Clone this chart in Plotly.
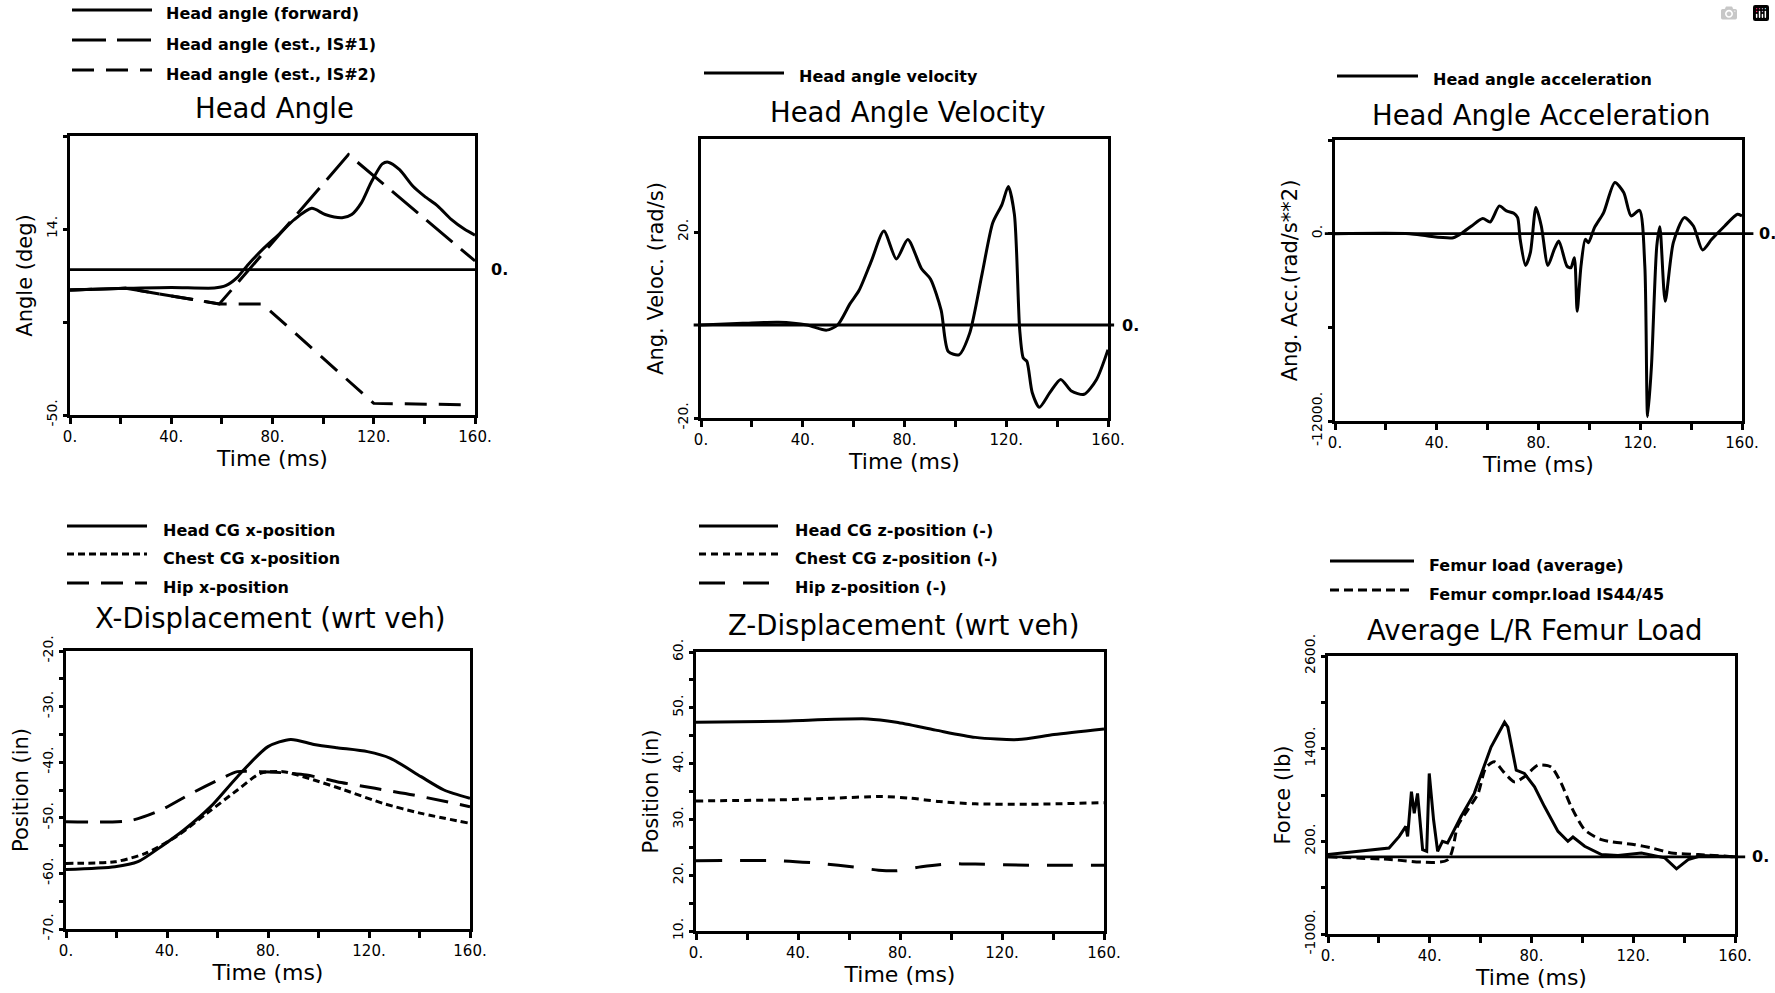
import plotly.graph_objects as go

W, H = 1775, 993
FONT = "DejaVu Sans"

# ---------------- data ----------------
# Panel 1: Head angle (deg)
ha_fwd_t = [0, 22, 40, 57, 61.5, 66, 70.5, 76.6, 82.6, 88.7, 95.5, 100.8, 107.5, 111.3, 115.1,
            118.9, 123.4, 125.7, 130.2, 135.5, 140, 145.3, 150.6, 155.9, 160]
ha_fwd_v = [-7, -6.4, -6.1, -6.3, -5.5, -2.7, 1.9, 7.4, 12.2, 17.3, 21.1, 19.0, 17.9, 19.0, 23.0,
            29.9, 36.4, 37.0, 34.4, 28.7, 25.3, 21.9, 17.3, 13.9, 11.9]
ha_is1_t = [0, 22, 59, 110, 160]
ha_is1_v = [-7, -6.4, -11.8, 39.6, 3.0]
ha_is2_t = [0, 22, 59, 76, 120, 159]
ha_is2_v = [-7, -6.4, -11.8, -11.8, -46, -46.5]

# Panel 2: Head angle velocity (rad/s)
hv_t = [0, 16.4, 30.5, 41.7, 49.4, 53.7, 58.6, 62.1, 67, 71.9, 76.8, 81.3, 86.7, 90.2, 94.4,
        97.2, 101.4, 105.6, 110.5, 114.7, 118.3, 120.8, 123.2, 125.3, 126.7, 128.1, 130.2, 133,
        137.2, 141.4, 145.6, 150.6, 155.5, 160]
hv_v = [0, 0.35, 0.6, 0, -1.1, 0, 4.6, 7.4, 13.8, 20.2, 14.2, 18.4, 12.1, 9.9, 3.2,
        -5.7, -6.4, -1.8, 11, 22, 25.9, 29.8, 23.8, -1.1, -7.1, -7.8, -14.5, -17.7,
        -14.5, -11.7, -14.2, -14.9, -11.7, -5.3]

# Panel 3: Head angle acceleration (rad/s**2)
hacc_t = [0, 29.3, 36.5, 46.5, 50.1, 53.7, 58.1, 61, 64.6, 67.4, 70.3, 71.8, 72.8, 74.9, 76.8,
          79, 81.1, 83.7, 86.2, 88, 91.2, 92.7, 94.1, 95.2, 96.7, 98.4, 99.6, 102, 105.6, 110,
          113.5, 116.4, 119.7, 121.8, 122.9, 124.4, 126.5, 127.7, 129.8, 133, 137.3, 140.9,
          144.5, 148.1, 153.2, 158.2, 160]
hacc_v = [0, 0, -150, -257, 64, 493, 964, 750, 1779, 1457, 1307, 1029, -364, -2036, -1221,
          1671, 493, -2036, -1007, -471, -2079, -2186, -1543, -4972, -2079, -364, -579, 386, 1350, 3279,
          2636, 1136, 1500, -2079, -11722, -8508, -793, 450, -4329, -579, 1029, 493,
          -1050, -364, 493, 1243, 1136]

# Panel 4: X-displacement (in)
xd_head_t = [0, 19.4, 28.5, 37.6, 46.7, 57.3, 67.9, 80, 89, 98.2, 107.3, 119.4, 128.5, 140.6, 149.7, 160]
xd_head_v = [-59.3, -58.8, -57.9, -55.2, -52.2, -48, -42.6, -37.2, -35.9, -36.8, -37.4, -38.1, -39.3,
             -42.6, -45, -46.5]
xd_chest_t = [0, 19.4, 31.5, 43.6, 55.8, 67.9, 77, 86, 98.2, 110.3, 125.5, 140.6, 160]
xd_chest_v = [-58.2, -57.9, -56.4, -53.4, -49.2, -45, -42, -41.7, -43.2, -45, -47.4, -49.2, -51]
xd_hip_t = [0, 25.5, 37.6, 49.7, 60.3, 67.9, 77, 86, 95.2, 107.3, 122.4, 137.6, 160]
xd_hip_v = [-50.7, -50.5, -48.6, -45.6, -43.2, -41.7, -41.7, -41.9, -42.3, -43.5, -44.7, -45.9, -48]

# Panel 5: Z-displacement (in)
zd_head_t = [0, 32.3, 67.4, 78.6, 94, 109.5, 126.3, 140.4, 160]
zd_head_v = [47.4, 47.6, 48, 47.4, 46, 44.7, 44.3, 45.2, 46.2]
zd_chest_t = [0, 32.3, 53.3, 73, 84.2, 95.4, 109.5, 130.5, 160]
zd_chest_v = [33.3, 33.5, 33.8, 34.1, 33.8, 33.2, 32.8, 32.7, 33]
zd_hip_t = [0, 32.3, 49, 63.2, 71.6, 78.6, 88.4, 98.2, 109.5, 130.5, 160]
zd_hip_v = [22.6, 22.6, 22.1, 21.4, 20.9, 20.8, 21.5, 22, 22, 21.8, 21.8]

# Panel 6: Femur load (lb)
fl_avg_t = [0, 12.9, 24, 28, 30.6, 31.3, 32.8, 33.9, 35.2, 35.9, 37.2, 38.8, 39.8, 41.5, 43.1, 45,
            47, 52.3, 57.5, 64.1, 69.4, 70.7, 74, 77.2, 81.2, 85.1, 90.4, 94.3, 96.3, 100.9,
            107.5, 114, 123.2, 132.4, 137, 141.6, 146.9, 160]
fl_avg_v = [29, 71, 114, 264, 393, 264, 843, 564, 821, 564, 93, 71, 1079, 479, 71, 200,
            179, 521, 821, 1421, 1743, 1679, 1121, 1079, 907, 650, 329, 200, 256, 136,
            29, 16, 50, -14, -156, -36, 16, 0]
fl_cmp_t = [0, 22, 47, 51, 55, 59, 62, 65.4, 69, 73.3, 77.2, 82.5, 87.7, 91.7, 95.6, 100.9, 107.5,
            120.6, 127.2, 135, 145.6, 160]
fl_cmp_v = [0, -30, -40, 400, 610, 820, 1150, 1230, 1100, 970, 1036, 1186, 1164, 950, 650, 350, 221,
            157, 114, 50, 29, 0]

# ---------------- panel setup ----------------
# pixel boxes (left, right, top, bottom)
boxes = [(70, 475, 136, 415), (701, 1108, 139, 418), (1335, 1742, 140, 421),
         (66, 470, 651, 929), (696, 1104, 652, 931), (1328, 1735, 656, 934)]
titles = ["Head Angle", "Head Angle Velocity", "Head Angle Acceleration",
          "X-Displacement (wrt veh)", "Z-Displacement (wrt veh)", "Average L/R Femur Load"]
title_pos = [(274, 108), (908, 112), (1541, 115), (270, 618), (903, 625), (1535, 630)]
ytitles = ["Angle (deg)", "Ang. Veloc. (rad/s)", "Ang. Acc.(rad/s**2)",
           "Position (in)", "Position (in)", "Force (lb)"]
yranges = [[-50, 46], [-20, 40], [-12000, 6000], [-70, -20], [10, 60], [-1000, 2600]]
ytickvals = [[-50, -18, 14, 46], [-20, 20], [-12000, -6000, 0, 6000],
             list(range(-70, -19, 5)), list(range(10, 61, 5)),
             [-1000, -400, 200, 800, 1400, 2000, 2600]]
yticktext = [["-50.", "", "14.", ""], ["-20.", "20."], ["-12000.", "", "0.", ""],
             [f"{v}." if v % 10 == 0 else "" for v in range(-70, -19, 5)],
             [f"{v}." if v % 10 == 0 else "" for v in range(10, 61, 5)],
             ["-1000.", "", "200.", "", "1400.", "", "2600."]]
xtickvals = list(range(0, 161, 20))
xticktext = [f"{v}." if v % 40 == 0 else "" for v in xtickvals]

series = [
    [(ha_fwd_t, ha_fwd_v, "solid", "spline"), (ha_is1_t, ha_is1_v, "34px,11px", "linear"),
     (ha_is2_t, ha_is2_v, "22px,12px", "linear")],
    [(hv_t, hv_v, "solid", "spline")],
    [(hacc_t, hacc_v, "solid", "spline")],
    [(xd_head_t, xd_head_v, "solid", "spline"), (xd_chest_t, xd_chest_v, "7px,4px", "spline"),
     (xd_hip_t, xd_hip_v, "22px,12px", "spline")],
    [(zd_head_t, zd_head_v, "solid", "spline"), (zd_chest_t, zd_chest_v, "7px,5px", "spline"),
     (zd_hip_t, zd_hip_v, "26px,18px", "spline")],
    [(fl_avg_t, fl_avg_v, "solid", "linear"), (fl_cmp_t, fl_cmp_v, "9px,5px", "spline")],
]
legend_names = [
    ["Head angle (forward)", "Head angle (est., IS#1)", "Head angle (est., IS#2)"],
    ["Head angle velocity"], ["Head angle acceleration"],
    ["Head CG x-position", "Chest CG x-position", "Hip x-position"],
    ["Head CG z-position (-)", "Chest CG z-position (-)", "Hip z-position (-)"],
    ["Femur load (average)", "Femur compr.load IS44/45"],
]
# legend geometry in px: line x0, x1, text x, row (line) y's
legend_geo = [(72, 152, 164, [10, 40, 70]), (704, 784, 797, [73]), (1337, 1418, 1431, [76]),
              (67, 147, 161, [526, 554, 583]), (699, 778, 793, [526, 554, 583]),
              (1330, 1414, 1427, [561, 590])]
# zero reference line: domain x0, x1, label x
zero_line = [(0.0, 1.0, 1.035), (-0.018, 1.015, 1.03), (-0.025, 1.028, 1.038), None, None,
             (0.0, 1.025, 1.038)]


def px(x):
    return x / W


def py(y):
    return 1 - y / H


fig = go.Figure()
shapes, annotations = [], []
layout = {}

for k in range(6):
    i = k + 1
    sfx = "" if i == 1 else str(i)
    L, R, T, B = boxes[k]
    xd = [px(L), px(R)]
    yd = [py(B), py(T)]
    layout[f"xaxis{sfx}"] = dict(
        domain=xd, range=[0, 160], anchor=f"y{sfx}", tickvals=xtickvals, ticktext=xticktext,
        ticks="outside", ticklen=6, tickwidth=2.5, tickcolor="black",
        tickfont=dict(family=FONT, size=15, color="black"),
        showline=True, linewidth=3.2, linecolor="black", mirror=True, showgrid=False, zeroline=False,
        title=dict(text="Time (ms)", font=dict(family=FONT, size=22, color="black"), standoff=0),
        automargin=False, fixedrange=True)
    layout[f"yaxis{sfx}"] = dict(
        domain=yd, range=yranges[k], anchor=f"x{sfx}", tickvals=ytickvals[k], ticktext=yticktext[k],
        ticks="outside", ticklen=4, tickwidth=2.5, tickcolor="black",
        tickfont=dict(family=FONT, size=14, color="black"), tickangle=-90,
        showline=True, linewidth=3.2, linecolor="black", mirror=True, showgrid=False, zeroline=False,
        title=dict(text=ytitles[k], font=dict(family=FONT, size=21, color="black"), standoff=6),
        automargin=False, fixedrange=True)
    # overlay axes to draw the inner half of the crossing ticks
    j = i + 6
    layout[f"xaxis{j}"] = dict(
        overlaying=f"x{sfx}", anchor=f"y{sfx}", range=[0, 160], tickvals=xtickvals,
        ticks="inside", ticklen=6, tickwidth=2.5, tickcolor="black", showticklabels=False,
        showline=False, showgrid=False, zeroline=False, fixedrange=True)
    layout[f"yaxis{j}"] = dict(
        overlaying=f"y{sfx}", anchor=f"x{sfx}", range=yranges[k], tickvals=ytickvals[k],
        ticks="inside", ticklen=9, tickwidth=2.5, tickcolor="black", showticklabels=False,
        showline=False, showgrid=False, zeroline=False, fixedrange=True)

    for (tx, vy, dash, shape), name in zip(series[k], legend_names[k]):
        line = dict(color="black", width=3.0, dash=dash, shape=shape)
        if shape == "spline":
            line["smoothing"] = 0.7
        fig.add_trace(go.Scatter(x=tx, y=vy, mode="lines", name=name, line=line,
                                 xaxis=f"x{sfx}", yaxis=f"y{sfx}", showlegend=False,
                                 hoverinfo="skip"))

    # title
    tx_, ty_ = title_pos[k]
    annotations.append(dict(text=titles[k], x=px(tx_), y=py(ty_), xref="paper",
                            yref="paper", showarrow=False, xanchor="center", yanchor="middle",
                            font=dict(family=FONT, size=27.5, color="black")))
    # legend
    lx0, lx1, tx0, rows = legend_geo[k]
    for (tx, vy, dash, shape), name, ry in zip(series[k], legend_names[k], rows):
        shapes.append(dict(type="line", xref="paper", yref="paper", x0=px(lx0), x1=px(lx1),
                           y0=py(ry), y1=py(ry), line=dict(color="black", width=3.0, dash=dash)))
        annotations.append(dict(text=f"<b>{name}</b>", x=px(tx0), y=py(ry + 4), xref="paper",
                                yref="paper", showarrow=False, xanchor="left", yanchor="middle",
                                font=dict(family=FONT, size=16, color="black")))
    # zero reference line and its label
    if zero_line[k] is not None:
        z0, z1, zl = zero_line[k]
        shapes.append(dict(type="line", xref=f"x{sfx} domain", yref=f"y{sfx}", x0=z0, x1=z1,
                           y0=0, y1=0, line=dict(color="black", width=2.8)))
        annotations.append(dict(text="<b>0.</b>", x=zl, y=0, xref=f"x{sfx} domain", yref=f"y{sfx}",
                                showarrow=False, xanchor="left", yanchor="middle",
                                font=dict(family=FONT, size=16, color="black")))

fig.update_layout(**layout)
fig.update_layout(width=W, height=H, margin=dict(l=0, r=0, t=0, b=0),
                  paper_bgcolor="white", plot_bgcolor="white", showlegend=False,
                  shapes=shapes, annotations=annotations,
                  font=dict(family=FONT, color="black"))

fig.write_html("out.html", post_script="document.body.style.margin='0px';document.body.style.overflow='hidden';")
